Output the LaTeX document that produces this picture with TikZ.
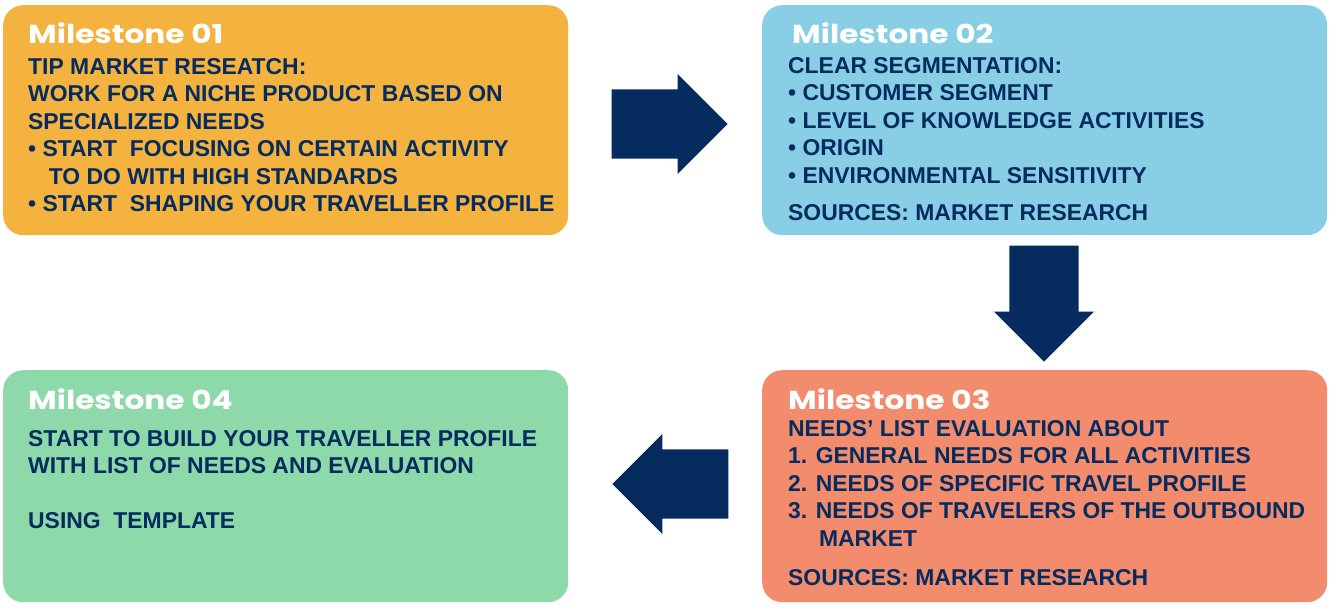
\documentclass[tikz,border=0pt]{standalone}
\usepackage{fontspec}
\setmainfont{Liberation Sans}
\newfontfamily\headfont{Poppins}[FakeStretch=1.2]
\usetikzlibrary{shapes.arrows}
\definecolor{boxorange}{HTML}{F4B23F}
\definecolor{boxblue}{HTML}{88CFE6}
\definecolor{boxsalmon}{HTML}{F28C6D}
\definecolor{boxgreen}{HTML}{8DD9AA}
\definecolor{navy}{HTML}{062B5E}
\tikzset{
  milebox/.style={rounded corners=20pt, minimum width=565pt, inner sep=0pt, anchor=north west},
  miletitle/.style={anchor=north west, inner sep=0pt, text=white,
    font=\headfont\bfseries\fontsize{26}{30}\selectfont},
  miletext/.style={anchor=north west, inner sep=0pt, align=left, text=navy,
    font=\bfseries\fontsize{22.9}{27.5}\selectfont},
  blockarrow/.style={single arrow, fill=navy, anchor=tip, inner xsep=0pt, inner ysep=34.5pt,
    minimum height=116pt, minimum width=100pt, single arrow head extend=15.5pt}
}
\begin{document}
\begin{tikzpicture}[x=1pt,y=-1pt]
  \useasboundingbox (0,0) rectangle (1330,608);
  % the four milestones
  \node[milebox, fill=boxorange, minimum height=230pt] (m1) at (3,5) {};
  \node[milebox, fill=boxblue, minimum height=230pt] (m2) at (762,5) {};
  \node[milebox, fill=boxsalmon, minimum height=232pt] (m3) at (762,370) {};
  \node[milebox, fill=boxgreen, minimum height=232pt] (m4) at (3,370) {};
  \node[miletitle] (m1 title) at (28,22) {Milestone 01};
  \node[miletext] (m1 text) at (28,58) {TIP MARKET RESEATCH:\\
    WORK FOR A NICHE PRODUCT BASED ON\\
    SPECIALIZED NEEDS\\
    \textbullet{} START\ \ FOCUSING ON CERTAIN ACTIVITY\\
    \hspace*{0.9em}TO DO WITH HIGH STANDARDS\\
    \textbullet{} START\ \ SHAPING YOUR TRAVELLER PROFILE};
  \node[miletitle] (m2 title) at (792,22) {Milestone 02};
  \node[miletext] (m2 text) at (788,57) {CLEAR SEGMENTATION:\\
    \textbullet{} CUSTOMER SEGMENT\\
    \textbullet{} LEVEL OF KNOWLEDGE ACTIVITIES\\
    \textbullet{} ORIGIN\\
    \textbullet{} ENVIRONMENTAL SENSITIVITY\\[9.5pt]
    SOURCES: MARKET RESEARCH};
  \node[miletitle] (m3 title) at (788,388) {Milestone 03};
  \node[miletext] (m3 text) at (788,420) {NEEDS’ LIST EVALUATION ABOUT\\
    1. GENERAL NEEDS FOR ALL ACTIVITIES\\
    2. NEEDS OF SPECIFIC TRAVEL PROFILE\\
    3. NEEDS OF TRAVELERS OF THE OUTBOUND\\
    \hspace*{1.35em}MARKET\\[11.5pt]
    SOURCES: MARKET RESEARCH};
  \node[miletitle] (m4 title) at (28,388) {Milestone 04};
  \node[miletext] (m4 text) at (28,430) {START TO BUILD YOUR TRAVELLER PROFILE\\
    WITH LIST OF NEEDS AND EVALUATION\\[27.5pt]
    USING\ \ TEMPLATE};
  % arrows between them
  \node[blockarrow] (a12) at (728,124) {};
  \node[blockarrow, shape border rotate=270, inner xsep=34.5pt, inner ysep=0pt] (a23) at (1044,362) {};
  \node[blockarrow, shape border rotate=180] (a34) at (612,484) {};
\end{tikzpicture}
\end{document}
